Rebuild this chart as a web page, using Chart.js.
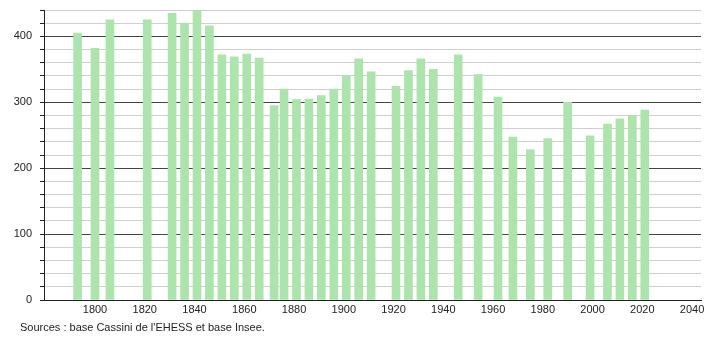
<!DOCTYPE html>
<html>
<head>
<meta charset="utf-8">
<script src="https://cdn.jsdelivr.net/npm/chart.js@4"></script>
<style>
  html, body { margin: 0; padding: 0; background: #fff; }
  canvas { display: block; }
</style>
</head>
<body>
<canvas id="popChart" width="710" height="340"></canvas>
<script>
// Census years and population
const years = [1793, 1800, 1806, 1821, 1831, 1836, 1841, 1846, 1851, 1856, 1861, 1866, 1872, 1876, 1881, 1886, 1891, 1896, 1901, 1906, 1911, 1921, 1926, 1931, 1936, 1946, 1954, 1962, 1968, 1975, 1982, 1990, 1999, 2006, 2011, 2016, 2021];
const population = [405, 382, 425, 425, 435, 420, 440, 416, 372, 369, 373, 367, 295, 320, 304, 305, 310, 320, 340, 366, 346, 324, 348, 366, 350, 372, 342, 308, 247, 228, 245, 300, 249, 267, 275, 280, 288];
const xTicks = [1800, 1820, 1840, 1860, 1880, 1900, 1920, 1940, 1960, 1980, 2000, 2020, 2040];
const sourceText = "Sources : base Cassini de l'EHESS et base Insee.";

const font = { family: 'Liberation Sans, Arial, sans-serif', size: 11 };

const sourcePlugin = {
  id: 'source',
  afterDraw(chart) {
    const c = chart.ctx;
    c.save();
    c.font = '11px Liberation Sans, Arial, sans-serif';
    c.fillStyle = '#222';
    c.textBaseline = 'middle';
    c.fillText(sourceText, 20, 328);
    c.restore();
  }
};

new Chart(document.getElementById('popChart'), {
  type: 'bar',
  data: {
    datasets: [{
      data: years.map((y, i) => ({ x: y, y: population[i] })),
      backgroundColor: '#ade3ad',
      borderWidth: 0,
      barThickness: 8
    }]
  },
  options: {
    responsive: false,
    animation: false,
    layout: { padding: { left: 0, right: 9, top: 10, bottom: 0 } },
    plugins: { legend: { display: false }, tooltip: { enabled: false } },
    scales: {
      x: {
        type: 'linear',
        offset: false,
        min: 1779.5,
        max: 2043.6,
        afterBuildTicks(scale) { scale.ticks = xTicks.map(v => ({ value: v })); },
        afterFit(scale) { scale.height = 40; scale.paddingLeft = 0; scale.paddingRight = 0; },
        grid: { display: false, drawTicks: false, offset: false },
        border: { color: '#222', width: 1 },
        ticks: { color: '#222', font: font, padding: 3, maxRotation: 0, autoSkip: false, callback: v => String(v) }
      },
      y: {
        min: 0,
        max: 440,
        afterFit(scale) { scale.width = 44; scale.paddingTop = 0; scale.paddingBottom = 0; },
        border: { color: '#222', width: 1 },
        grid: {
          color: ctx => (ctx.tick && ctx.tick.value % 100 === 0) ? '#444' : '#cfcfcf',
          tickColor: '#222',
          tickLength: 4,
          drawTicks: true
        },
        ticks: {
          stepSize: 20,
          color: '#222',
          font: font,
          padding: 8,
          autoSkip: false,
          callback: v => (v % 100 === 0 ? String(v) : '')
        }
      }
    }
  },
  plugins: [sourcePlugin]
});
</script>
</body>
</html>
